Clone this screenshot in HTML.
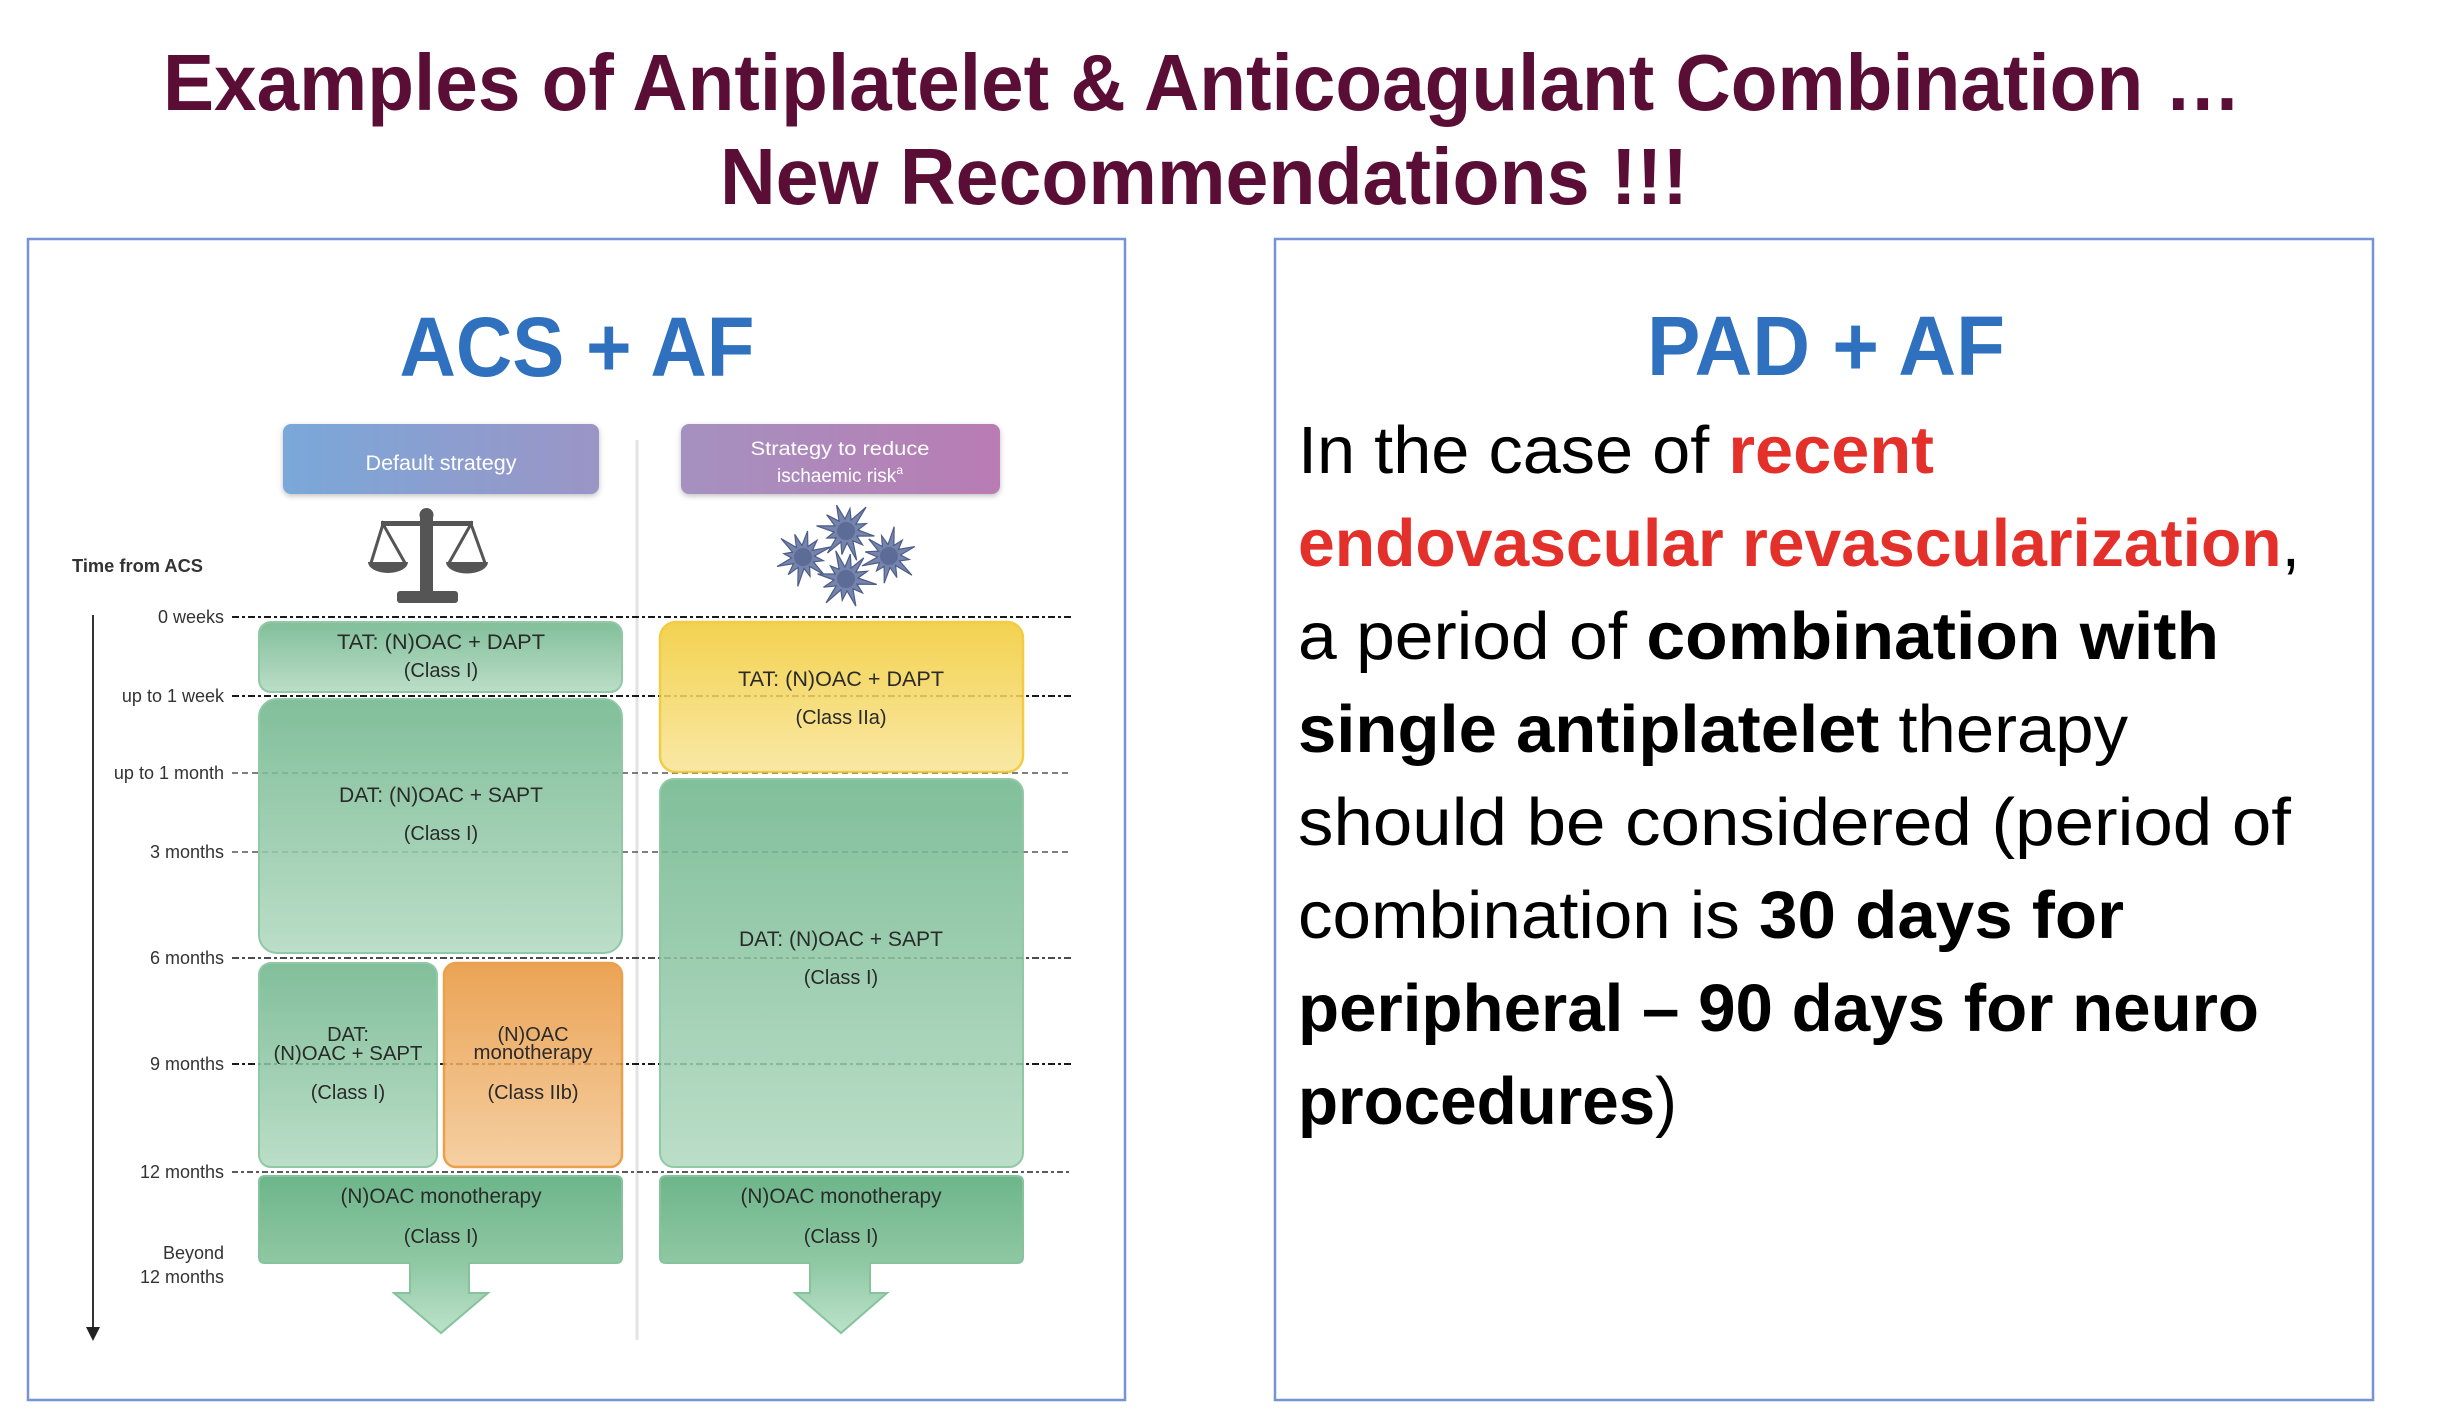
<!DOCTYPE html>
<html>
<head>
<meta charset="utf-8">
<style>
html,body{margin:0;padding:0;background:#fff;}
svg{display:block;}
text{font-family:"Liberation Sans",sans-serif;}
</style>
</head>
<body>
<svg width="2440" height="1420" viewBox="0 0 2440 1420" xmlns="http://www.w3.org/2000/svg">
<defs>
  <linearGradient id="gG" x1="0" y1="0" x2="0" y2="1">
    <stop offset="0" stop-color="#6DB58A"/>
    <stop offset="1" stop-color="#B1D9C0"/>
  </linearGradient>
  <linearGradient id="gA" x1="0" y1="0" x2="0" y2="1">
    <stop offset="0" stop-color="#6DB58A"/>
    <stop offset="0.55" stop-color="#8FC8A3"/>
    <stop offset="1" stop-color="#BCE2CA"/>
  </linearGradient>
  <linearGradient id="gY" x1="0" y1="0" x2="0" y2="1">
    <stop offset="0" stop-color="#F2CB33"/>
    <stop offset="1" stop-color="#F8E597"/>
  </linearGradient>
  <linearGradient id="gO" x1="0" y1="0" x2="0" y2="1">
    <stop offset="0" stop-color="#E8953A"/>
    <stop offset="1" stop-color="#F4C894"/>
  </linearGradient>
  <linearGradient id="gB" x1="0" y1="0" x2="1" y2="0">
    <stop offset="0" stop-color="#79A8D9"/>
    <stop offset="1" stop-color="#9B95C6"/>
  </linearGradient>
  <linearGradient id="gP" x1="0" y1="0" x2="1" y2="0">
    <stop offset="0" stop-color="#A591C0"/>
    <stop offset="1" stop-color="#B97CB3"/>
  </linearGradient>
  <filter id="sh" x="-10%" y="-20%" width="120%" height="150%">
    <feGaussianBlur in="SourceAlpha" stdDeviation="3"/>
    <feOffset dx="0" dy="2" result="b"/>
    <feComponentTransfer><feFuncA type="linear" slope="0.25"/></feComponentTransfer>
    <feMerge><feMergeNode/><feMergeNode in="SourceGraphic"/></feMerge>
  </filter>
  <path id="pl" d="M24,0 L9.7,2.6 L15.6,9 L7.1,7.1 L13,22.5 L2.6,9.7 L0,20 L-2.6,9.7 L-12,20.8 L-7.1,7.1 L-14.7,8.5 L-9.7,2.6 L-25,0 L-9.7,-2.6 L-18.2,-10.5 L-7.1,-7.1 L-11.5,-19.9 L-2.6,-9.7 L0,-19 L2.6,-9.7 L13,-22.5 L7.1,-7.1 L15.6,-9 L9.7,-2.6 Z"/>
</defs>

<rect x="0" y="0" width="2440" height="1420" fill="#ffffff"/>

<!-- Title -->
<text x="163" y="110" font-size="80" font-weight="bold" fill="#5B0E35" textLength="2078" lengthAdjust="spacingAndGlyphs">Examples of Antiplatelet &amp; Anticoagulant Combination …</text>
<text x="720" y="204" font-size="80" font-weight="bold" fill="#5B0E35" textLength="968" lengthAdjust="spacingAndGlyphs">New Recommendations !!!</text>

<!-- Panels -->
<rect x="28" y="239" width="1097" height="1161" fill="none" stroke="#7494D5" stroke-width="2.5"/>
<rect x="1275" y="239" width="1098" height="1161" fill="none" stroke="#7494D5" stroke-width="2.5"/>

<!-- LEFT PANEL -->
<text x="577" y="376" font-size="84" font-weight="bold" fill="#2F71BE" text-anchor="middle" textLength="355" lengthAdjust="spacingAndGlyphs">ACS + AF</text>

<!-- header boxes -->
<rect x="283" y="424" width="316" height="70" rx="8" fill="url(#gB)" filter="url(#sh)"/>
<rect x="681" y="424" width="319" height="70" rx="8" fill="url(#gP)" filter="url(#sh)"/>
<text x="441" y="470" font-size="21" fill="#ffffff" text-anchor="middle" textLength="151" lengthAdjust="spacingAndGlyphs">Default strategy</text>
<text x="840" y="455" font-size="19" fill="#ffffff" text-anchor="middle" textLength="179" lengthAdjust="spacingAndGlyphs">Strategy to reduce</text>
<text x="840" y="482" font-size="19" fill="#ffffff" text-anchor="middle">ischaemic risk<tspan font-size="12" dy="-8">a</tspan></text>

<!-- divider -->
<line x1="637" y1="440" x2="637" y2="1340" stroke="#e3e3e3" stroke-width="3"/>

<!-- scale icon -->
<g fill="#555555">
  <rect x="420" y="515" width="13" height="80"/>
  <circle cx="426.5" cy="515" r="7"/>
  <rect x="381" y="521" width="92" height="5"/>
  <rect x="397" y="591" width="61" height="12" rx="3"/>
  <path d="M368,562 A20,11 0 0 0 408,562 Z"/>
  <path d="M446,562 A20,11 0 0 0 488,562 Z"/>
</g>
<g fill="none" stroke="#555555" stroke-width="3">
  <polyline points="371,563 383,524 405,563"/>
  <polyline points="449,563 471,524 485,563"/>
</g>

<!-- platelet icon -->
<g fill="#7584AC" stroke="#4D5C86" stroke-width="1">
  <use href="#pl" transform="translate(846,531) rotate(10) scale(1.2)"/>
  <use href="#pl" transform="translate(803,557) rotate(40) scale(1.15)"/>
  <use href="#pl" transform="translate(889,556) rotate(-20) scale(1.15)"/>
  <use href="#pl" transform="translate(846,579) rotate(70) scale(1.2)"/>
</g>
<g fill="#5D6C97">
  <circle cx="846" cy="531" r="9"/>
  <circle cx="803" cy="557" r="9"/>
  <circle cx="889" cy="556" r="9"/>
  <circle cx="846" cy="579" r="9"/>
</g>

<!-- axis -->
<text x="72" y="572" font-size="18" font-weight="bold" fill="#333" textLength="131" lengthAdjust="spacingAndGlyphs">Time from ACS</text>
<line x1="93" y1="615" x2="93" y2="1330" stroke="#333" stroke-width="2"/>
<polygon points="86,1327 100,1327 93,1341" fill="#222"/>

<!-- time lines -->
<g stroke-width="2">
  <line x1="232" y1="617" x2="1071" y2="617" stroke="#1a1a1a" stroke-dasharray="7 3 3 3"/>
  <line x1="232" y1="696" x2="1071" y2="696" stroke="#1a1a1a" stroke-dasharray="7 3 3 3"/>
  <line x1="232" y1="773" x2="1071" y2="773" stroke="#555" stroke-dasharray="6 4" stroke-width="1.6"/>
  <line x1="232" y1="852" x2="1071" y2="852" stroke="#555" stroke-dasharray="6 4" stroke-width="1.6"/>
  <line x1="232" y1="958" x2="1071" y2="958" stroke="#333" stroke-dasharray="7 3 3 3" stroke-width="1.8"/>
  <line x1="232" y1="1064" x2="1071" y2="1064" stroke="#1a1a1a" stroke-dasharray="7 3 3 3"/>
  <line x1="232" y1="1172" x2="1071" y2="1172" stroke="#444" stroke-dasharray="6 3 3 3" stroke-width="1.7"/>
</g>

<g font-size="18" fill="#333" text-anchor="end">
  <text x="224" y="623">0 weeks</text>
  <text x="224" y="702">up to 1 week</text>
  <text x="224" y="779">up to 1 month</text>
  <text x="224" y="858">3 months</text>
  <text x="224" y="964">6 months</text>
  <text x="224" y="1070">9 months</text>
  <text x="224" y="1178">12 months</text>
  <text x="224" y="1259">Beyond</text>
  <text x="224" y="1283">12 months</text>
</g>

<!-- boxes -->
<g opacity="0.86">
  <rect x="259" y="622" width="363" height="70" rx="12" fill="url(#gG)" stroke="#80C098" stroke-width="2"/>
  <rect x="259" y="699" width="363" height="254" rx="18" fill="url(#gG)" stroke="#80C098" stroke-width="2"/>
  <rect x="259" y="963" width="178" height="204" rx="12" fill="url(#gG)" stroke="#80C098" stroke-width="2"/>
  <rect x="444" y="963" width="178" height="204" rx="12" fill="url(#gO)" stroke="#E8912F" stroke-width="2.5"/>
  <rect x="660" y="622" width="363" height="150" rx="16" fill="url(#gY)" stroke="#F0C42A" stroke-width="2.5"/>
  <rect x="660" y="779" width="363" height="388" rx="14" fill="url(#gG)" stroke="#80C098" stroke-width="2"/>
</g>
<path d="M265,1176 H616 Q622,1176 622,1182 V1257 Q622,1263 616,1263 H469 V1293 H488 L441,1333 L394,1293 H410 V1263 H265 Q259,1263 259,1257 V1182 Q259,1176 265,1176 Z" fill="url(#gA)" stroke="#86C39D" stroke-width="2"/>
<path d="M666,1176 H1017 Q1023,1176 1023,1182 V1257 Q1023,1263 1017,1263 H870 V1293 H887 L841,1333 L795,1293 H810 V1263 H666 Q660,1263 660,1257 V1182 Q660,1176 666,1176 Z" fill="url(#gA)" stroke="#86C39D" stroke-width="2"/>

<!-- box labels -->
<g font-size="21" fill="#2a2a2a" text-anchor="middle">
  <text x="441" y="649" textLength="208" lengthAdjust="spacingAndGlyphs">TAT: (N)OAC + DAPT</text>
  <text x="441" y="677" font-size="20">(Class I)</text>
  <text x="441" y="802" textLength="204" lengthAdjust="spacingAndGlyphs">DAT: (N)OAC + SAPT</text>
  <text x="441" y="840" font-size="20">(Class I)</text>

  <text x="348" y="1041" font-size="20">DAT:</text>
  <text x="348" y="1060" font-size="20" textLength="149" lengthAdjust="spacingAndGlyphs">(N)OAC + SAPT</text>
  <text x="348" y="1099" font-size="20">(Class I)</text>

  <text x="533" y="1041" font-size="20">(N)OAC</text>
  <text x="533" y="1059" font-size="20" textLength="119" lengthAdjust="spacingAndGlyphs">monotherapy</text>
  <text x="533" y="1099" font-size="20">(Class IIb)</text>

  <text x="441" y="1203" textLength="201" lengthAdjust="spacingAndGlyphs">(N)OAC monotherapy</text>
  <text x="441" y="1243" font-size="20">(Class I)</text>

  <text x="841" y="686" textLength="206" lengthAdjust="spacingAndGlyphs">TAT: (N)OAC + DAPT</text>
  <text x="841" y="724" font-size="20">(Class IIa)</text>
  <text x="841" y="946" textLength="204" lengthAdjust="spacingAndGlyphs">DAT: (N)OAC + SAPT</text>
  <text x="841" y="984" font-size="20">(Class I)</text>
  <text x="841" y="1203" textLength="201" lengthAdjust="spacingAndGlyphs">(N)OAC monotherapy</text>
  <text x="841" y="1243" font-size="20">(Class I)</text>
</g>

<!-- RIGHT PANEL -->
<text x="1826" y="375" font-size="84" font-weight="bold" fill="#2F71BE" text-anchor="middle" textLength="358" lengthAdjust="spacingAndGlyphs">PAD + AF</text>

<g font-size="67" fill="#000">
  <text x="1298" y="473" textLength="636" lengthAdjust="spacingAndGlyphs">In the case of <tspan fill="#E4302B" font-weight="bold">recent</tspan></text>
  <text x="1298" y="566" textLength="1002" lengthAdjust="spacingAndGlyphs"><tspan fill="#E4302B" font-weight="bold">endovascular revascularization</tspan>,</text>
  <text x="1298" y="659" textLength="921" lengthAdjust="spacingAndGlyphs">a period of <tspan font-weight="bold">combination with</tspan></text>
  <text x="1298" y="752" textLength="830" lengthAdjust="spacingAndGlyphs"><tspan font-weight="bold">single antiplatelet</tspan> therapy</text>
  <text x="1298" y="845" textLength="993" lengthAdjust="spacingAndGlyphs">should be considered (period of</text>
  <text x="1298" y="938" textLength="826" lengthAdjust="spacingAndGlyphs">combination is <tspan font-weight="bold">30 days for</tspan></text>
  <text x="1298" y="1031" textLength="961" lengthAdjust="spacingAndGlyphs" font-weight="bold">peripheral – 90 days for neuro</text>
  <text x="1298" y="1124" textLength="379" lengthAdjust="spacingAndGlyphs"><tspan font-weight="bold">procedures</tspan>)</text>
</g>
</svg>
</body>
</html>
